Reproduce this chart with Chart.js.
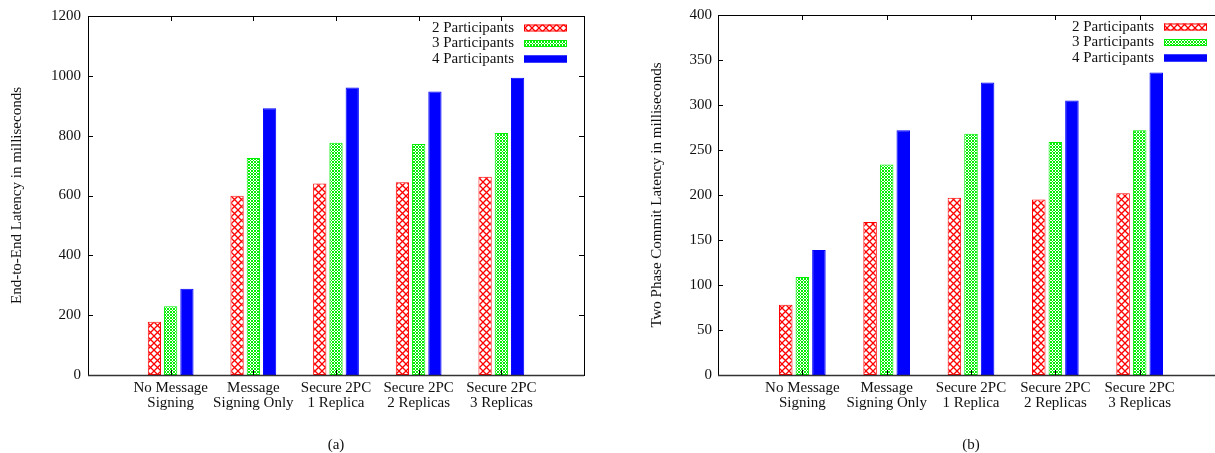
<!DOCTYPE html>
<html>
<head>
<meta charset="utf-8">
<script src="https://cdn.jsdelivr.net/npm/chart.js@4"></script>
<style>
  body { margin: 0; background: #fff; overflow: hidden; width: 1215px; height: 453px; position: relative; }
  #chartA { position: absolute; left: 0; top: 0; }
  #chartB { position: absolute; left: 607px; top: 0; }
</style>
</head>
<body>
<canvas id="chartA" width="607" height="453"></canvas>
<canvas id="chartB" width="640" height="453"></canvas>
<script>
// data
let categories = [
  ["No Message", "Signing"],
  ["Message", "Signing Only"],
  ["Secure 2PC", "1 Replica"],
  ["Secure 2PC", "2 Replicas"],
  ["Secure 2PC", "3 Replicas"],
];
let seriesNames = ["2 Participants", "3 Participants", "4 Participants"];

let e2e_2p = [178, 599, 640, 644, 663];
let e2e_3p = [230, 725, 776, 772, 809];
let e2e_4p = [288, 892, 961, 948, 994];

let tpc_2p = [78, 170, 197, 195, 202];
let tpc_3p = [109, 234, 268, 259, 272];
let tpc_4p = [139, 272, 325, 305, 336];

let yTicksA = [0, 200, 400, 600, 800, 1000, 1200];
let yTicksB = [0, 50, 100, 150, 200, 250, 300, 350, 400];

Chart.defaults.font.family = "'Liberation Serif', 'DejaVu Serif', serif";
Chart.defaults.font.size = 15;
Chart.defaults.color = "#111";

function hatch(color, size, width) {
  let c = document.createElement("canvas");
  c.width = size;
  c.height = size;
  let g = c.getContext("2d");
  g.fillStyle = "#fff";
  g.fillRect(0, 0, size, size);
  g.strokeStyle = color;
  g.lineWidth = width;
  g.beginPath();
  g.moveTo(0, 0); g.lineTo(size, size);
  g.moveTo(size, 0); g.lineTo(0, size);
  g.stroke();
  return g.createPattern(c, "repeat");
}

let fills = [hatch("#ff0000", 7, 1.3), hatch("#00ee00", 3, 1), "#0000ff"];
let borders = ["#ff0000", "#00ee00", "#0000ff"];

// gnuplot style frame, inward ticks, legend and caption
let gnuplotFrame = {
  id: "gnuplotFrame",
  afterDatasetsDraw(chart, args, opts) {
    let ctx = chart.ctx;
    let a = chart.chartArea;
    let x = chart.scales.x, y = chart.scales.y;
    ctx.save();
    ctx.strokeStyle = "#000";
    ctx.lineWidth = 1;
    ctx.beginPath();
    y.ticks.forEach(t => {
      let py = Math.round(y.getPixelForValue(t.value)) + 0.5;
      ctx.moveTo(a.left, py); ctx.lineTo(a.left + 5, py);
      ctx.moveTo(a.right, py); ctx.lineTo(a.right - 5, py);
    });
    for (let i = 1; i <= categories.length; i++) {
      let px = Math.round(x.getPixelForValue(i)) + 0.5;
      ctx.moveTo(px, a.top); ctx.lineTo(px, a.top + 5);
      ctx.moveTo(px, a.bottom); ctx.lineTo(px, a.bottom - 5);
    }
    ctx.stroke();
    ctx.strokeRect(Math.round(a.left) + 0.5, Math.round(a.top) + 0.5,
      Math.round(a.right - a.left), Math.round(a.bottom - a.top));
    ctx.strokeStyle = "#333";
    ctx.lineWidth = 1.5;
    ctx.beginPath();
    ctx.moveTo(a.left, Math.round(a.bottom) + 0.5);
    ctx.lineTo(a.right, Math.round(a.bottom) + 0.5);
    ctx.stroke();

    // legend
    ctx.font = "15px 'Liberation Serif', serif";
    ctx.fillStyle = "#111";
    ctx.textAlign = "right";
    ctx.textBaseline = "middle";
    chart.data.datasets.forEach((ds, i) => {
      let cy = a.top + 12 + i * 15.5;
      ctx.fillText(ds.label, a.right - 70, cy);
      ctx.fillStyle = ds.backgroundColor;
      ctx.fillRect(a.right - 60, cy - 3.5, 43, 7);
      ctx.strokeStyle = ds.borderColor;
      ctx.lineWidth = 1;
      ctx.strokeRect(a.right - 60 + 0.5, cy - 3.5 + 0.5, 42, 6);
      ctx.fillStyle = "#111";
    });

    // caption
    ctx.textAlign = "center";
    ctx.fillText(opts.caption, x.getPixelForValue(3), 445);
    ctx.restore();
  },
};

function makeChart(id, series, yTicks, yTitle, caption, yWidth, titlePad, tickPad, padRight) {
  let labels = ["", ...categories, ""];
  return new Chart(document.getElementById(id), {
    type: "bar",
    data: {
      labels: labels,
      datasets: series.map((vals, i) => ({
        label: seriesNames[i],
        data: [null, ...vals, null],
        backgroundColor: fills[i],
        borderColor: borders[i],
        borderWidth: 1,
        borderSkipped: false,
        categoryPercentage: 0.59,
        barPercentage: 0.815,
      })),
    },
    options: {
      responsive: false,
      animation: false,
      layout: { padding: { top: 13, right: padRight, left: 0, bottom: 0 } },
      plugins: {
        legend: { display: false },
        tooltip: { enabled: false },
        gnuplotFrame: { caption: caption },
      },
      scales: {
        x: {
          offset: false,
          grid: { display: false, drawTicks: false },
          border: { display: false },
          ticks: {
            autoSkip: false,
            maxRotation: 0,
            padding: 6,
            font: { size: 15, lineHeight: 0.96 },
          },
          afterFit(s) { s.height = 78; },
        },
        y: {
          min: yTicks[0],
          max: yTicks[yTicks.length - 1],
          grid: { display: false, drawTicks: false },
          border: { display: false },
          afterBuildTicks(s) { s.ticks = yTicks.map(v => ({ value: v })); },
          ticks: { padding: tickPad, font: { size: 15 }, callback: v => String(v) },
          title: {
            display: true,
            text: yTitle,
            font: { size: 15 },
            padding: { top: titlePad, bottom: 0 },
          },
          afterFit(s) { s.width = yWidth; },
        },
      },
    },
    plugins: [gnuplotFrame],
  });
}

makeChart("chartA", [e2e_2p, e2e_3p, e2e_4p], yTicksA,
  "End-to-End Latency in milliseconds", "(a)", 88, 8, 7, 23);
makeChart("chartB", [tpc_2p, tpc_3p, tpc_4p], yTicksB,
  "Two Phase Commit Latency in milliseconds", "(b)", 111, 41, 6, 23);
</script>
</body>
</html>
